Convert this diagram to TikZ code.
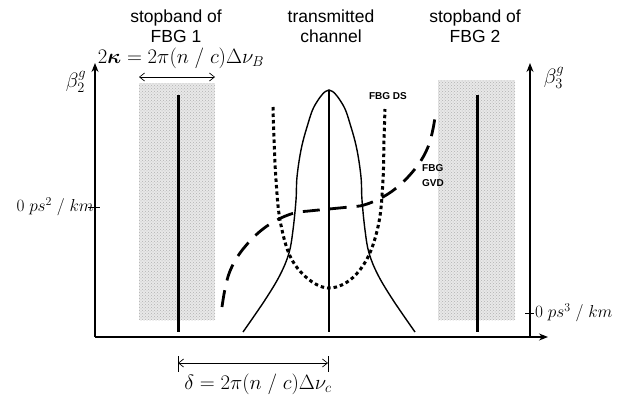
\documentclass[tikz,border=0pt]{standalone}
\usepackage{amsmath}
\usepackage{fontspec}
\setmainfont{Liberation Sans}
\usetikzlibrary{arrows.meta,patterns}
\begin{document}
\begin{tikzpicture}[x=1pt,y=-1pt,
  lbl/.style={font=\fontsize{17.5}{21}\selectfont, inner sep=0pt},
  tiny/.style={font=\fontsize{10}{12}\selectfont\bfseries, inner sep=0pt},
  mth/.style={font=\fontsize{17}{20}\selectfont, inner sep=0pt},
  bigmth/.style={font=\fontsize{21}{24}\selectfont, inner sep=0pt},
  eqmth/.style={font=\fontsize{20}{24}\selectfont, inner sep=0pt},
  axisline/.style={line width=1.1pt, -{Stealth[length=9pt,width=7pt]}},
  band/.style={fill=black!9, draw=none},
  barline/.style={line width=3pt},
  thinarrow/.style={line width=0.7pt, {Straight Barb[length=5pt,width=8pt]}-{Straight Barb[length=5pt,width=8pt]}},
  bell/.style={line width=1.4pt},
  dsline/.style={line width=3pt, dash pattern=on 3.5pt off 3pt},
  gvdline/.style={line width=2.8pt, dash pattern=on 17pt off 10pt}]
\useasboundingbox (0,0) rectangle (619,399);

% stopbands
\fill[band] (139,83) rectangle (215,320);
\fill[band] (438,80) rectangle (515,320);
\fill[pattern=crosshatch dots, pattern color=black!30] (139,83) rectangle (215,320);
\fill[pattern=crosshatch dots, pattern color=black!30] (438,80) rectangle (515,320);

% axes
\coordinate (o) at (95,337);
\coordinate (ytop) at (95,63);
\coordinate (xend) at (548,337);
\coordinate (r0) at (530,337);
\coordinate (rtop) at (530,63);
\draw[axisline] (o) -- (ytop);
\draw[axisline] (o) -- (xend);
\draw[axisline] (r0) -- (rtop);

% ticks
\coordinate (lt1) at (88,207); \coordinate (lt2) at (100,207);
\draw[line width=0.8pt] (lt1) -- (lt2);
\coordinate (rt1) at (525,313); \coordinate (rt2) at (534,313);
\draw[line width=0.8pt] (rt1) -- (rt2);

% axis labels
\node[bigmth] (b2) at (76,82) {$\beta_2^g$};
\node[bigmth] (b3) at (554,78) {$\beta_3^g$};
\node[mth, anchor=east] (z2) at (94,207) {$0\;ps^2\;/\;km$};
\node[mth, anchor=west] (z3) at (535,313) {$0\;ps^3\;/\;km$};

% stopband bars
\coordinate (b1t) at (178,95); \coordinate (b1b) at (178,332);
\draw[barline] (b1t) -- (b1b);
\coordinate (b2t) at (477,95); \coordinate (b2b) at (477,332);
\draw[barline] (b2t) -- (b2b);

% stopband width arrow
\coordinate (wl) at (139,77); \coordinate (wr) at (215,77);
\draw[thinarrow] (wl) -- (wr);
\node[eqmth, anchor=base] (kap) at (181,63) {$2\boldsymbol{\kappa} = 2\pi(n\;/\;c)\Delta\nu_B$};

% top labels
\node[lbl, anchor=base] (s1a) at (176,22) {stopband of};
\node[lbl, anchor=base] (s1b) at (176,42) {FBG 1};
\node[lbl, anchor=base] (tca) at (331,22) {transmitted};
\node[lbl, anchor=base] (tcb) at (331,42) {channel};
\node[lbl, anchor=base] (s2a) at (475,22) {stopband of};
\node[lbl, anchor=base] (s2b) at (475,42) {FBG 2};

% central line
\coordinate (ct) at (329,90); \coordinate (cb) at (329,332);
\draw[line width=2.2pt] (ct) -- (cb);

% transmitted channel (bell)
\draw[bell] plot[smooth, tension=0.6] coordinates {(243,332) (265,300) (280,275) (289,253) (293,230) (296,200) (297,177) (301,150) (307,127) (315,105) (329,90) (343,105) (351,127) (357,150) (361,177) (362,200) (365,230) (369,253) (378,275) (393,300) (415,332)};

% FBG DS (dotted)
\draw[dsline] plot[smooth, tension=0.6] coordinates {(273,107) (274,140) (276,180) (280,220) (290,256) (307,278) (328,288) (350,280) (368,257) (379,222) (383,180) (384,140) (385,109)};

% FBG GVD (dashed)
\draw[gvdline] plot[smooth, tension=0.6] coordinates {(222,307) (225,289) (230,271) (240,253) (257,234) (275,221) (294,213) (309,211) (329,209) (349,207) (364,205) (383,197) (401,184) (418,165) (428,147) (433,129) (436,110)};

\node[tiny, anchor=center] (ds) at (388,96) {FBG DS};
\node[tiny, anchor=west] (gvda) at (422,168) {FBG};
\node[tiny, anchor=west] (gvdb) at (422,183) {GVD};

% channel spacing arrow
\coordinate (dlt) at (178,356); \coordinate (dlb) at (178,372);
\coordinate (drt) at (328,356); \coordinate (drb) at (328,372);
\draw[line width=0.8pt] (dlt) -- (dlb);
\draw[line width=0.8pt] (drt) -- (drb);
\coordinate (dl) at (178,363); \coordinate (dr) at (328,363);
\draw[thinarrow] (dl) -- (dr);
\node[eqmth, anchor=base] (del) at (258,389) {$\delta = 2\pi(n\;/\;c)\Delta\nu_c$};
\end{tikzpicture}
\end{document}
